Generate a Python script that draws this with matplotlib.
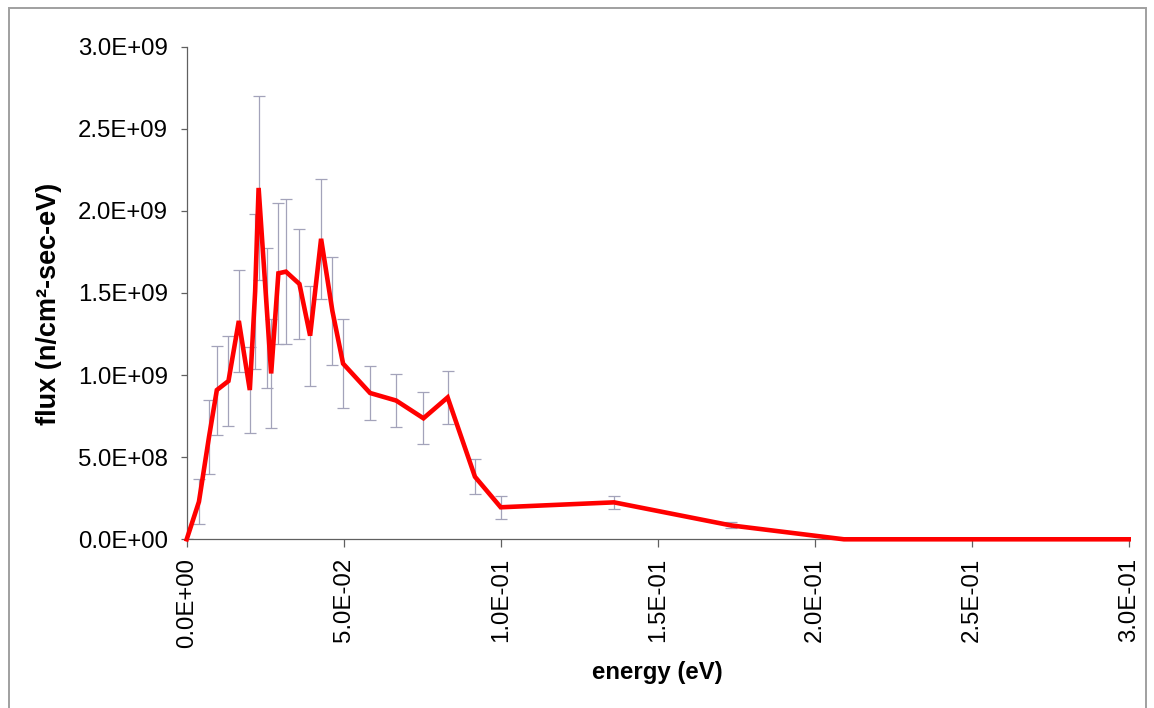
import matplotlib
matplotlib.use("Agg")
import matplotlib.pyplot as plt
from matplotlib.patches import Rectangle
from matplotlib.ticker import FuncFormatter, MultipleLocator

plt.rcParams["font.family"] = ["Liberation Sans", "DejaVu Sans"]

# energy (eV), flux (n/cm2-sec-eV) and its error
energy = [0.0, 0.0039, 0.0071, 0.0096, 0.0133, 0.0166, 0.0201, 0.0218, 0.0229,
          0.0257, 0.0269, 0.0292, 0.0316, 0.0359, 0.0393, 0.0428, 0.0464, 0.0498,
          0.0584, 0.0667, 0.0754, 0.0831, 0.0918, 0.1000, 0.1361, 0.1732, 0.2093,
          0.2500, 0.3000]
flux = [0.0, 2.29e8, 6.23e8, 9.09e8, 9.64e8, 1.33e9, 9.09e8, 1.51e9, 2.14e9,
        1.35e9, 1.01e9, 1.62e9, 1.63e9, 1.555e9, 1.24e9, 1.83e9, 1.39e9, 1.07e9,
        8.91e8, 8.45e8, 7.37e8, 8.64e8, 3.81e8, 1.95e8, 2.25e8, 8.5e7, 0.0,
        0.0, 0.0]
flux_err = [0.0, 1.37e8, 2.27e8, 2.71e8, 2.72e8, 3.11e8, 2.64e8, 4.72e8, 5.59e8,
            4.26e8, 3.32e8, 4.29e8, 4.42e8, 3.37e8, 3.04e8, 3.64e8, 3.30e8, 2.71e8,
            1.63e8, 1.60e8, 1.58e8, 1.63e8, 1.06e8, 7.1e7, 3.9e7, 1.9e7, 0.0,
            0.0, 0.0]

W, H = 1154, 708
fig = plt.figure(figsize=(W / 100, H / 100), dpi=100)
ax = fig.add_axes([186.7 / W, 1 - 539.3 / H, 942 / W, 492.6 / H])

ax.errorbar(energy, flux, yerr=flux_err, fmt="none", ecolor="#a3a3ba",
            elinewidth=0.9, capsize=4.3, capthick=0.9, zorder=2)
ax.plot(energy, flux, color="#ff0000", linewidth=3.3, zorder=3, clip_on=False,
        solid_joinstyle="miter")

ax.set_xlim(0, 0.3)
ax.set_ylim(0, 3.0e9)
ax.xaxis.set_major_locator(MultipleLocator(0.05))
ax.yaxis.set_major_locator(MultipleLocator(5e8))
sci = FuncFormatter(lambda v, pos: f"{v:.1E}")
ax.xaxis.set_major_formatter(sci)
ax.yaxis.set_major_formatter(sci)

for side in ("top", "right"):
    ax.spines[side].set_visible(False)
for side in ("left", "bottom"):
    ax.spines[side].set_color("#606060")
    ax.spines[side].set_linewidth(0.9)

ax.tick_params(axis="both", colors="#606060", labelcolor="black", width=0.9,
               labelsize=17.3, direction="out")
ax.tick_params(axis="x", length=5.5, pad=8, labelrotation=90)
ax.tick_params(axis="y", length=4.5, pad=9)

fig.text(657.5 / W, 1 - 672 / H, "energy (eV)", ha="center", va="center",
         fontsize=17.3, fontweight="bold")
fig.text(49 / W, 1 - 304 / H, "flux (n/cm²-sec-eV)", ha="center", va="center",
         rotation=90, fontsize=19.5, fontweight="bold")

# chart border like the spreadsheet frame
fig.patches.append(Rectangle((8.5 / W, -0.05), (1146 - 8.5) / W, 1.05 - 8.5 / H,
                             transform=fig.transFigure, fill=False,
                             edgecolor="#a0a0a0", linewidth=1.4))

fig.savefig("out.png", dpi=100)
